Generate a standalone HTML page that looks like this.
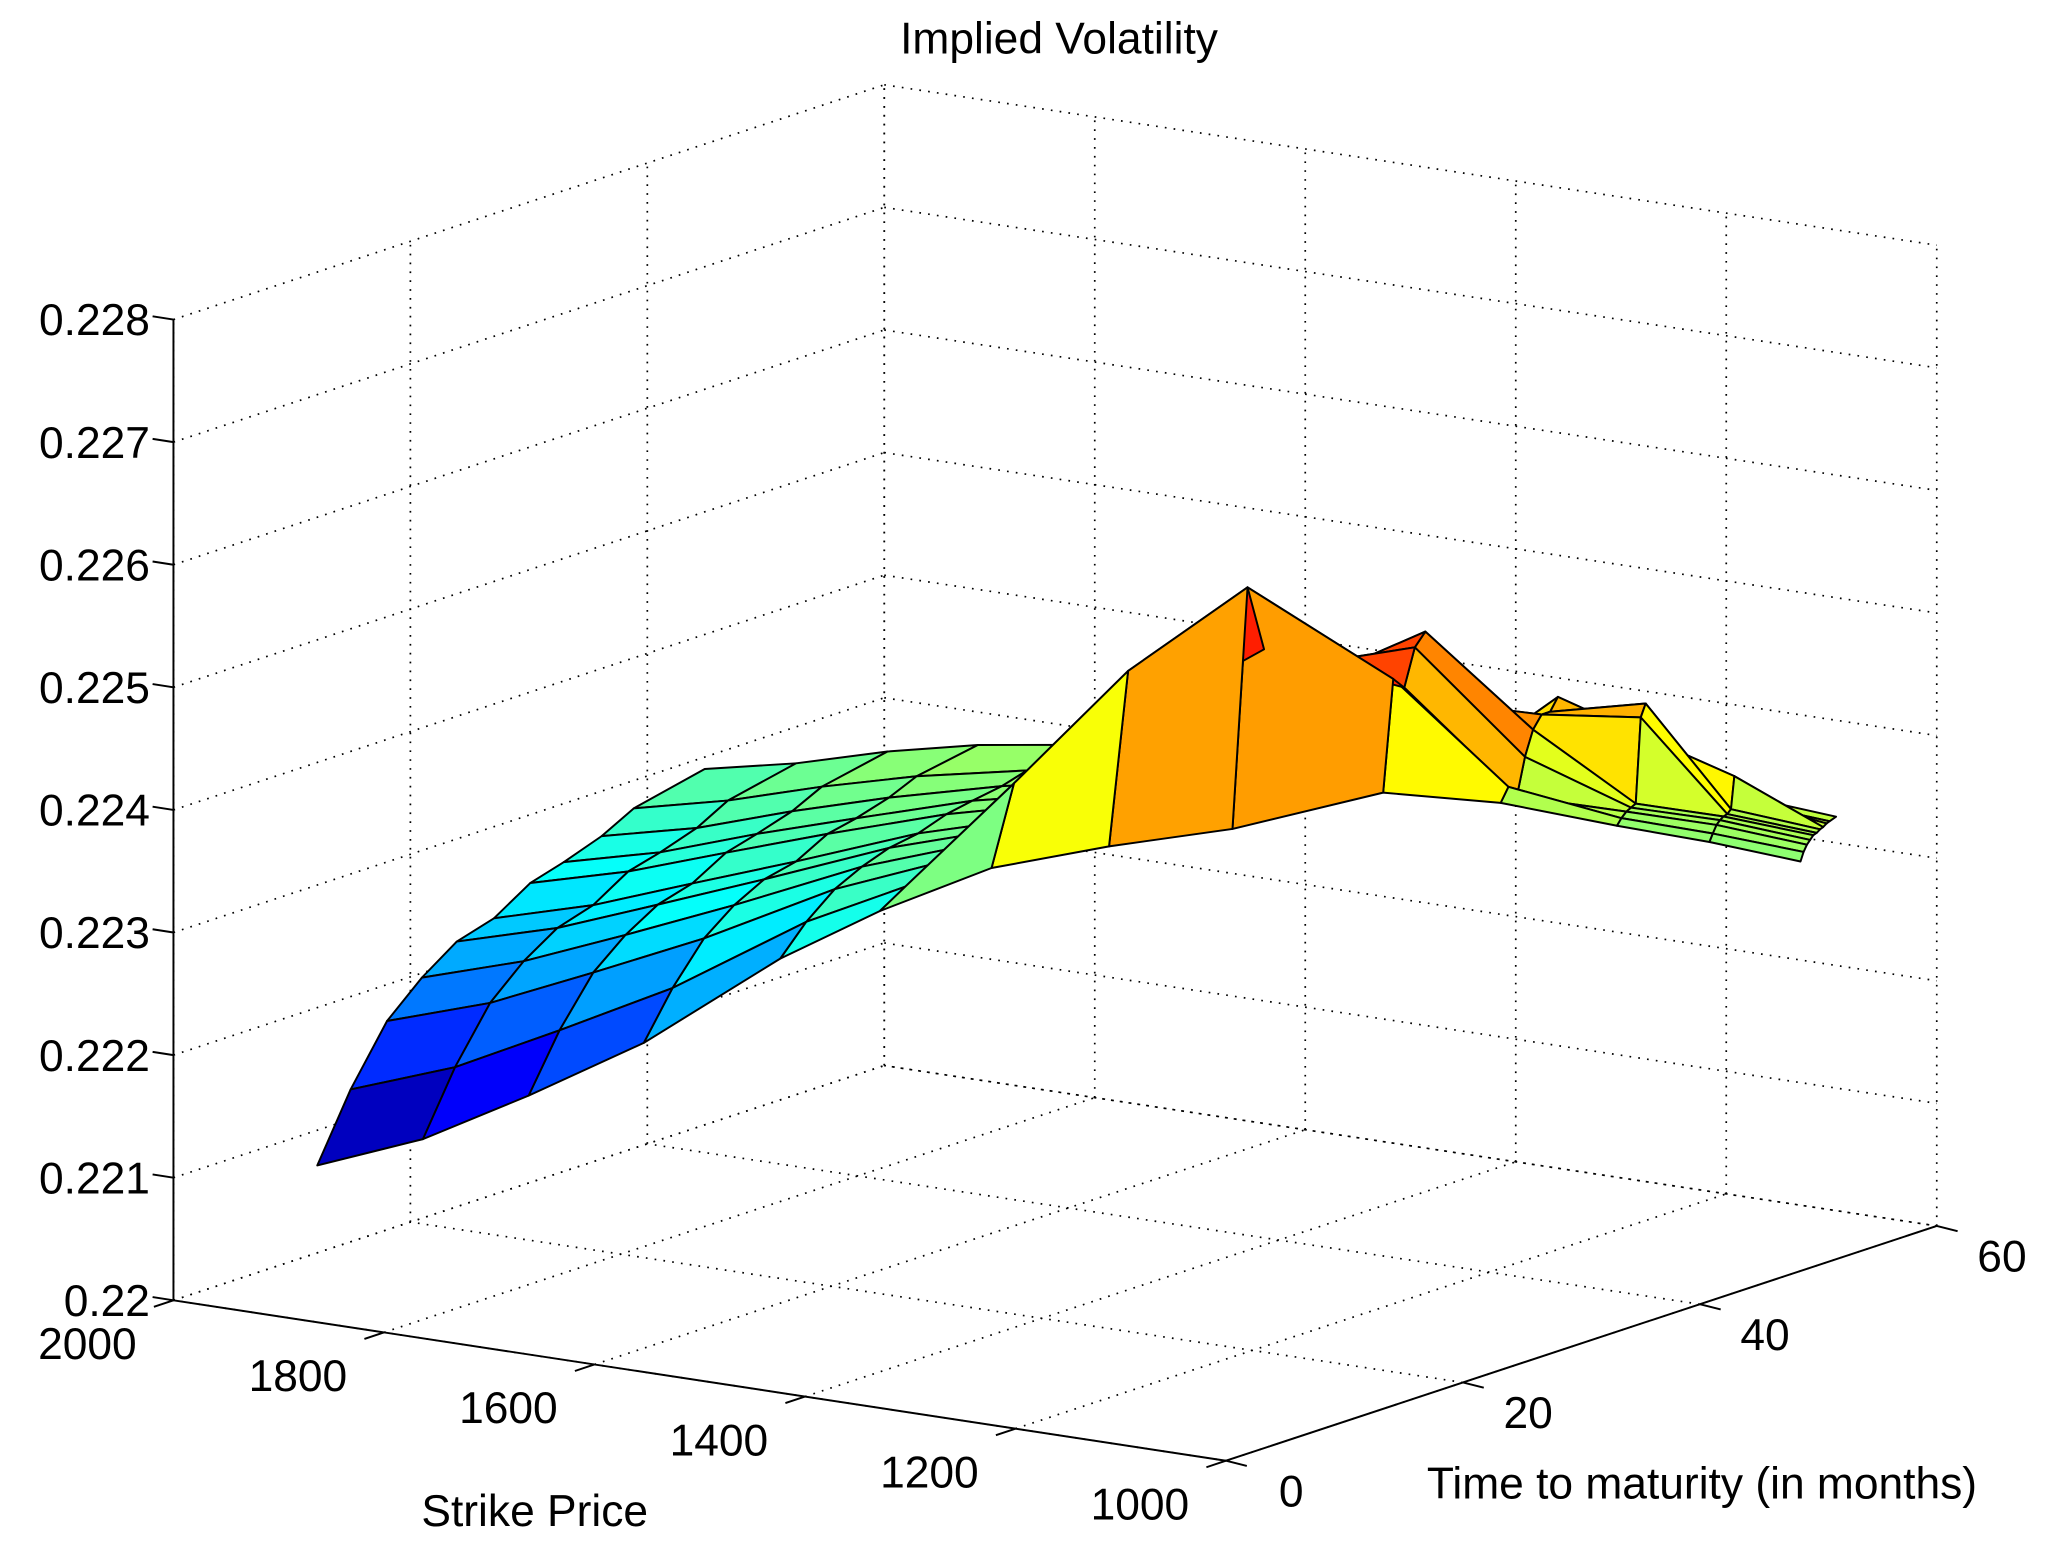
<!DOCTYPE html>
<html>
<head>
<meta charset="utf-8">
<style>
html,body{margin:0;padding:0;background:#fff;}
svg{display:block;}
text{font-family:"Liberation Sans",Arial,sans-serif;fill:#000;}
</style>
</head>
<body>
<svg id="chart" width="2045" height="1554" viewBox="0 0 1568 1191.5" xmlns="http://www.w3.org/2000/svg">
  <rect x="0" y="0" width="1568" height="1191.5" fill="#fff"/>
  <g id="grid"></g>
  <g id="surface"></g>
  <g id="axes"></g>
  <text x="812" y="41" font-size="34" text-anchor="middle">Implied Volatility</text>
  <text x="410" y="1170" font-size="34" text-anchor="middle">Strike Price</text>
  <text x="1305" y="1149" font-size="34" text-anchor="middle">Time to maturity (in months)</text>
</svg>
<script>
// ---- data ----
const strikes = [1950,1880,1810,1740,1670,1600,1530,1460,1390,1320,1250,1180,1100,1000];
const frontMaturity = [7.7,10.4,13.1,16.6,21.9,24.1,27.3,31,35.2,41.7,45.4,49,49.7,48.5];
const backMaturity = [40.4,41.9,43.4,44.8,47.4,48.9,49.3,49.7,50,51.6,53,53.4,53,51.5];
const rowFraction = [0,0.086,0.18,0.27,0.36,0.456,0.55,0.636,0.734,0.817,1];
const ivRow0  = [0.22092,0.22114,0.22150,0.22191,0.22252,0.22293,0.22327,0.22342,0.22352,0.22370,0.22359,0.22338,0.22333,0.22334];
const ivRow1  = [0.22145,0.22164,0.22195,0.22228,0.22275,0.22306,0.22390,0.22480,0.22545,0.22460,0.22370,0.22343,0.22339,0.22341];
const ivRow2  = [0.22191,0.22207,0.22233,0.22260,0.22294,0.22317,0.22370,0.22440,0.22490,0.22450,0.22360,0.22347,0.22345,0.22346];
const ivRow3  = [0.22217,0.22232,0.22255,0.22279,0.22305,0.22324,0.22355,0.22420,0.22470,0.22480,0.22390,0.22349,0.22348,0.22349];
const ivRow4  = [0.22237,0.22250,0.22271,0.22292,0.22313,0.22329,0.22344,0.22400,0.22450,0.22490,0.22410,0.22351,0.22350,0.22352];
const ivRow5  = [0.22246,0.22259,0.22279,0.22298,0.22317,0.22331,0.22345,0.22360,0.22400,0.22430,0.22420,0.22420,0.22351,0.22353];
const ivRow6  = [0.22265,0.22277,0.22295,0.22312,0.22325,0.22336,0.22347,0.22351,0.22370,0.22390,0.22420,0.22430,0.22354,0.22355];
const ivRow7  = [0.22273,0.22284,0.22302,0.22317,0.22329,0.22338,0.22348,0.22352,0.22360,0.22370,0.22430,0.22400,0.22380,0.22356];
const ivRow8  = [0.22284,0.22294,0.22311,0.22325,0.22333,0.22340,0.22349,0.22353,0.22355,0.22358,0.22400,0.22380,0.22360,0.22358];
const ivRow9  = [0.22298,0.22308,0.22323,0.22335,0.22339,0.22344,0.22351,0.22353,0.22352,0.22357,0.22351,0.22357,0.22357,0.22359];
const ivRow10 = [0.22311,0.22320,0.22334,0.22344,0.22345,0.22347,0.22352,0.22354,0.22352,0.22356,0.22350,0.22358,0.22359,0.22361];
const ivRows = [ivRow0,ivRow1,ivRow2,ivRow3,ivRow4,ivRow5,ivRow6,ivRow7,ivRow8,ivRow9,ivRow10];
const colorLimits = [0.2210,0.2256];
const strikeTicks = [2000,1800,1600,1400,1200,1000];
const strikeTickLabels = ["2000","1800","1600","1400","1200","1000"];
const timeTicks = [0,20,40,60];
const timeTickLabels = ["0","20","40","60"];
const ivTicks = [0.22,0.221,0.222,0.223,0.224,0.225,0.226,0.227,0.228];
const ivTickLabels = ["0.22","0.221","0.222","0.223","0.224","0.225","0.226","0.227","0.228"];

// ---- axis functions ----
const S_MAX=2000,S_MIN=1000,T_MIN=0,T_MAX=60,Z_MIN=0.22,Z_MAX=0.228;
const OX=133,OY=997;
function px(s,t,z){ return OX + (S_MAX-s)*0.807 + t*(545/60); }
function py(s,t,z){ return OY + (S_MAX-s)*0.123 - t*(180/60) - (z-Z_MIN)*94000; }
const NS="http://www.w3.org/2000/svg";
function mk(tag,attrs,parent){ const e=document.createElementNS(NS,tag); for(const k in attrs) e.setAttribute(k,attrs[k]); parent.appendChild(e); return e; }

const grid=document.getElementById('grid');
const axes=document.getElementById('axes');
const surf=document.getElementById('surface');
const dot={stroke:'#000','stroke-width':1.3,'stroke-dasharray':'1.3 5.5',fill:'none'};
function line(g,a,b,style){ return mk('line',Object.assign({x1:a[0],y1:a[1],x2:b[0],y2:b[1]},style),g); }
function P(s,t,z){ return [px(s,t,z),py(s,t,z)]; }

strikeTicks.forEach(s=>{ const e=line(grid,P(s,T_MIN,Z_MIN),P(s,T_MAX,Z_MIN),dot);
  });
timeTicks.forEach(t=>{ const e=line(grid,P(S_MIN,t,Z_MIN),P(S_MAX,t,Z_MIN),dot);
  });
timeTicks.forEach(t=>{ const e=line(grid,P(S_MAX,t,Z_MIN),P(S_MAX,t,Z_MAX),dot);
  });
ivTicks.forEach(z=>{ const e=line(grid,P(S_MAX,T_MIN,z),P(S_MAX,T_MAX,z),dot);
  });
strikeTicks.forEach(s=>{ const e=line(grid,P(s,T_MAX,Z_MIN),P(s,T_MAX,Z_MAX),dot);
  });
ivTicks.forEach(z=>{ const e=line(grid,P(S_MAX,T_MAX,z),P(S_MIN,T_MAX,z),dot);
  });

// ---- surface ----
function jet(v){
  v=Math.max(0,Math.min(1,v));
  const r=Math.max(0,Math.min(1,1.5-Math.abs(4*v-3)));
  const g=Math.max(0,Math.min(1,1.5-Math.abs(4*v-2)));
  const b=Math.max(0,Math.min(1,1.5-Math.abs(4*v-1)));
  return 'rgb('+Math.round(r*255)+','+Math.round(g*255)+','+Math.round(b*255)+')';
}
const R=ivRows.length,C=strikes.length;
function mat(i,j){ return frontMaturity[j]+(backMaturity[j]-frontMaturity[j])*rowFraction[i]; }
const zmin=colorLimits[0],zmax=colorLimits[1];
const faces=[];
for(let i=0;i<R-1;i++){
  for(let j=0;j<C-1;j++){
    const nodes=[[i,j],[i,j+1],[i+1,j+1],[i+1,j]];
    let ds=0,dt=0,dz=0;
    const pts=nodes.map(([a,b])=>{ const s=strikes[b],t=mat(a,b),z=ivRows[a][b]; ds+=s; dt+=t; dz+=z; return px(s,t,z).toFixed(2)+','+py(s,t,z).toFixed(2); });
    ds/=4; dt/=4; dz/=4;
    const depth=545*(ds-S_MIN)/1000 + 807*dt/60;
    faces.push({pts:pts.join(' '),depth:depth,color:jet((dz-zmin)/(zmax-zmin))});
  }
}
faces.sort((a,b)=>b.depth-a.depth);
faces.forEach(f=>{
  const e=mk('polygon',{points:f.pts,fill:f.color,stroke:'#000','stroke-width':1.5,'stroke-linejoin':'round'},surf);
  
  
});

// ---- axes ----
const solid={stroke:'#000','stroke-width':1.5,fill:'none'};
let e;
e=line(axes,P(S_MAX,T_MIN,Z_MIN),P(S_MAX,T_MIN,Z_MAX),solid);
 
e=line(axes,P(S_MAX,T_MIN,Z_MIN),P(S_MIN,T_MIN,Z_MIN),solid);
 
e=line(axes,P(S_MIN,T_MIN,Z_MIN),P(S_MIN,T_MAX,Z_MIN),solid);
 

ivTicks.forEach((z,k)=>{
  const a=P(S_MAX,T_MIN,z);
  const t1=line(axes,a,[a[0]-16,a[1]-2.5],solid);
   
  const tx=mk('text',{x:115,y:a[1]+12,'font-size':34,'text-anchor':'end'},axes);
  tx.textContent=ivTickLabels[k];
   
});
strikeTicks.forEach((s,k)=>{
  const a=P(s,T_MIN,Z_MIN);
  const t1=line(axes,a,[a[0]-15,a[1]+5],solid);
   
  const tx=mk('text',{x:a[0]-66,y:a[1]+45,'font-size':34,'text-anchor':'middle'},axes);
  tx.textContent=strikeTickLabels[k];
   
});
timeTicks.forEach((t,k)=>{
  const a=P(S_MIN,t,Z_MIN);
  const t1=line(axes,a,[a[0]+16,a[1]+4],solid);
   
  const tx=mk('text',{x:a[0]+50,y:a[1]+35,'font-size':34,'text-anchor':'middle'},axes);
  tx.textContent=timeTickLabels[k];
   
});
</script>
</body>
</html>
